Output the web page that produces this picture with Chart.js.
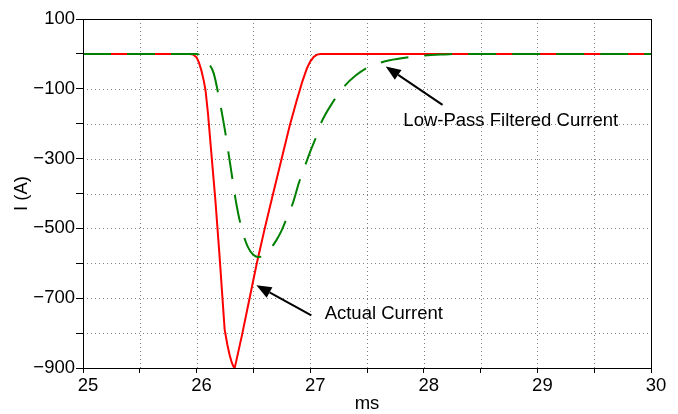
<!DOCTYPE html>
<html>
<head>
<meta charset="utf-8">
<script src="https://cdn.jsdelivr.net/npm/chart.js@4"></script>
<style>
  html, body { margin: 0; padding: 0; background: #fff; }
  #wrap { width: 678px; height: 414px; }
</style>
</head>
<body>
<div id="wrap"><canvas id="currentChart" width="678" height="414"></canvas></div>
<script>
// values (time in ms, current in A)
const actualTime = [25, 25.94, 25.97, 26.0, 26.02, 26.04, 26.05, 26.065, 26.08, 26.1, 26.13, 26.165, 26.2,
  26.247, 26.27, 26.29, 26.31, 26.325, 26.335, 26.345, 26.4, 26.46, 26.53, 26.6, 26.67, 26.82, 26.88,
  26.93, 26.97, 27.0, 27.03, 27.06, 27.09, 30];
const actualCurrent = [0, 0, -2, -10, -24, -45, -58, -80, -108, -170, -285, -418, -570,
  -790, -832, -862, -885, -896, -900, -886, -805, -710, -600, -500, -405, -205, -135,
  -80, -42, -22, -9, -2, 0, 0];

const filteredTime = [25, 26.0, 26.05, 26.1, 26.15, 26.2, 26.25, 26.3, 26.35, 26.4, 26.45, 26.5, 26.55, 26.6,
  26.65, 26.7, 26.75, 26.8, 26.85, 26.9, 26.95, 27.0, 27.05, 27.1, 27.2, 27.3, 27.4, 27.5, 27.6, 27.7,
  27.85, 28.0, 28.15, 28.3, 30];
const filteredCurrent = [0, 0, -7, -25, -55, -130, -220, -325, -430, -505, -552, -576, -582, -575,
  -558, -535, -505, -465, -425, -370, -325, -280, -240, -195, -138, -93, -62, -40, -27, -18,
  -10, -5, -2, 0, 0];

const xRange = [25, 30, 0.5];
const yRange = [-900, 100, 100];

// callouts: [label, arrow tip x, tip y, arrow tail x, tail y, text x, text y]
const callouts = [
  ['Low-Pass Filtered Current', 27.665, -36, 28.165, -146, 27.82, -191],
  ['Actual Current', 26.526, -663, 27.01, -749, 27.127, -745]
];

const FONT = 'Liberation Sans, Arial, Helvetica, sans-serif';

function pairs(xs, ys) {
  return xs.map((x, i) => ({ x: x, y: ys[i] }));
}

// dotted grid, one line per scale tick
const dottedGrid = {
  id: 'dottedGrid',
  beforeDatasetsDraw(chart) {
    const { ctx, chartArea: a, scales } = chart;
    ctx.save();
    ctx.strokeStyle = '#808080';
    ctx.lineWidth = 1;
    ctx.setLineDash([1, 3]);
    scales.x.ticks.forEach(t => {
      const px = Math.round(scales.x.getPixelForValue(t.value)) + 0.5;
      ctx.beginPath();
      ctx.moveTo(px, a.top);
      ctx.lineTo(px, a.bottom);
      ctx.stroke();
    });
    scales.y.ticks.forEach(t => {
      const py = Math.round(scales.y.getPixelForValue(t.value)) + 0.5;
      ctx.beginPath();
      ctx.moveTo(a.left, py);
      ctx.lineTo(a.right, py);
      ctx.stroke();
    });
    ctx.restore();
  }
};

const framePlugin = {
  id: 'frameAndCallouts',
  afterDraw(chart) {
    const { ctx, chartArea: a, scales } = chart;
    ctx.save();
    ctx.strokeStyle = '#000';
    ctx.lineWidth = 1;
    ctx.strokeRect(a.left + 0.5, a.top + 0.5, a.right - a.left, a.bottom - a.top);

    ctx.fillStyle = '#000';
    ctx.font = '18.5px ' + FONT;
    ctx.textBaseline = 'middle';
    ctx.textAlign = 'left';
    callouts.forEach(c => {
      const tx = scales.x.getPixelForValue(c[1]);
      const ty = scales.y.getPixelForValue(c[2]);
      const sx = scales.x.getPixelForValue(c[3]);
      const sy = scales.y.getPixelForValue(c[4]);
      const ang = Math.atan2(ty - sy, tx - sx);
      const headLen = 15, headW = 6;
      const bx = tx - headLen * Math.cos(ang);
      const by = ty - headLen * Math.sin(ang);
      ctx.lineWidth = 2;
      ctx.beginPath();
      ctx.moveTo(sx, sy);
      ctx.lineTo(bx, by);
      ctx.stroke();
      ctx.beginPath();
      ctx.moveTo(tx, ty);
      ctx.lineTo(bx + headW * Math.sin(ang), by - headW * Math.cos(ang));
      ctx.lineTo(bx - headW * Math.sin(ang), by + headW * Math.cos(ang));
      ctx.closePath();
      ctx.fill();
      ctx.fillText(c[0], scales.x.getPixelForValue(c[5]), scales.y.getPixelForValue(c[6]));
    });
    ctx.restore();
  }
};

const chartCtx = document.getElementById('currentChart').getContext('2d');
const currentChart = new Chart(chartCtx, {
  type: 'line',
  data: {
    datasets: [{
      label: 'Actual Current',
      data: pairs(actualTime, actualCurrent),
      borderColor: '#ff0000',
      borderWidth: 2,
      pointRadius: 0,
      tension: 0,
      order: 2
    }, {
      label: 'Low-Pass Filtered Current',
      data: pairs(filteredTime, filteredCurrent),
      borderColor: '#008000',
      borderWidth: 2,
      borderDash: [28, 16],
      pointRadius: 0,
      cubicInterpolationMode: 'monotone',
      order: 1
    }]
  },
  options: {
    responsive: false,
    animation: false,
    layout: { padding: { left: 0, top: 19, right: 27, bottom: 0 } },
    plugins: { legend: { display: false }, tooltip: { enabled: false } },
    scales: {
      x: {
        type: 'linear',
        min: xRange[0],
        max: xRange[1],
        afterFit: s => { s.height = 46; },
        ticks: {
          stepSize: xRange[2],
          autoSkip: false,
          maxRotation: 0,
          padding: 4,
          labelOffset: 5,
          color: '#000',
          font: { family: FONT, size: 18.5, lineHeight: 1 },
          callback: v => Number.isInteger(v) ? String(v) : ''
        },
        grid: { drawOnChartArea: false, color: '#000', tickLength: 5 },
        border: { color: '#000' },
        title: {
          display: true, text: 'ms', color: '#000',
          font: { family: FONT, size: 18.5, lineHeight: 1 },
          padding: { top: 0, bottom: 1 }
        }
      },
      y: {
        min: yRange[0],
        max: yRange[1],
        afterFit: s => { s.width = 83; },
        ticks: {
          stepSize: yRange[2],
          autoSkip: false,
          padding: 1,
          color: '#000',
          font: { family: FONT, size: 18.5, lineHeight: 1 },
          callback: v => (v % 200 !== 0) ? (v < 0 ? '\u2212' + Math.abs(v) : String(v)) : ''
        },
        grid: { drawOnChartArea: false, color: '#000', tickLength: 7 },
        border: { color: '#000' },
        title: {
          display: true, text: 'I (A)', color: '#000',
          font: { family: FONT, size: 18.5, lineHeight: 1 },
          padding: { top: 13, bottom: 0 }
        }
      }
    }
  },
  plugins: [dottedGrid, framePlugin]
});
</script>
</body>
</html>
